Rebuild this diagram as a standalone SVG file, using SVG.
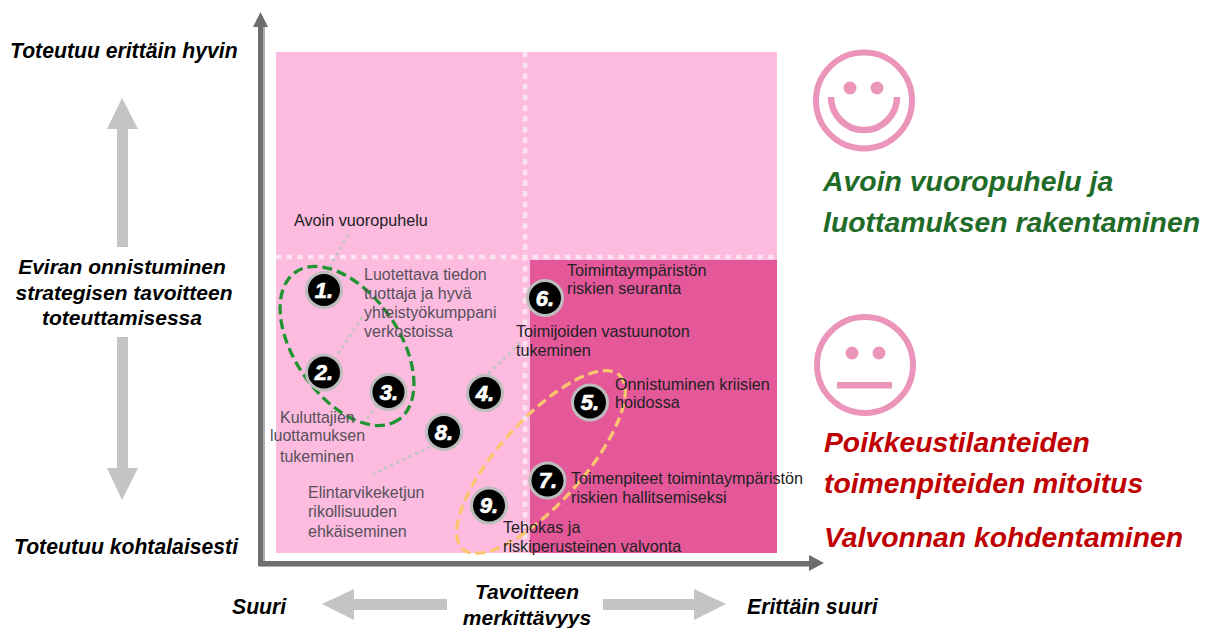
<svg xmlns="http://www.w3.org/2000/svg" width="1216" height="628" viewBox="0 0 1216 628">
<style>
text{font-family:"Liberation Sans",Arial,sans-serif}
.h{font-size:21.2px;font-weight:bold;font-style:italic;fill:#000}
.b{font-size:21px;font-weight:bold;font-style:italic;fill:#000;text-anchor:middle}
.g{font-size:28.4px;font-weight:bold;font-style:italic;fill:#1f6b27}
.r{font-size:28.3px;font-weight:bold;font-style:italic;fill:#c00000}
.d{font-size:16.2px;fill:#222}
.m{font-size:16px;fill:#57505a}
.n{font-size:22px;font-weight:bold;font-style:italic;fill:#fff;stroke:#fff;stroke-width:.7;text-anchor:middle}
.c{fill:#000;stroke:#bdbdbd;stroke-width:3}
.l{fill:none;stroke:#c4c4c4;stroke-width:3;stroke-dasharray:3 3.8}
.w{fill:none;stroke:#fde3f0;stroke-width:4.5;stroke-dasharray:5.5 5.2}
.f{fill:none;stroke:#ec95bb;stroke-width:6}
.p{fill:#ec95bb}
.a{fill:#c4c4c4}
</style>
<g id="quadrants">
<rect x="276" y="52" width="501" height="501" fill="#fdbcdf"/>
<rect x="530" y="260" width="247" height="293" fill="#e4589a"/>
<line class="w" x1="525" y1="52" x2="525" y2="553"/>
<line class="w" x1="276" y1="257" x2="777" y2="257"/>
</g>
<g id="axes">
<path d="M263 565V27M259 565H810" fill="none" stroke="#b0b0b0" stroke-width="4"/>
<path d="M260.500 563.500V26" fill="none" stroke="#6e6e6e" stroke-width="5"/>
<path d="M253 27L260.500 12L268 27Z" fill="#6e6e6e"/>
<path d="M258 563.500H810" fill="none" stroke="#6e6e6e" stroke-width="5"/>
<path d="M809 555L824 563L809 571Z" fill="#6e6e6e"/>
</g>
<g id="connectors">
<line class="l" x1="348" y1="235" x2="327" y2="272"/>
<line class="l" x1="362" y1="317" x2="337" y2="356"/>
<line class="l" x1="377" y1="405" x2="363" y2="423"/>
<line class="l" x1="520" y1="343" x2="487" y2="375"/>
<line class="l" x1="430" y1="447" x2="373" y2="474"/>
</g>
<g id="ellipses">
<ellipse cx="347" cy="346" rx="90" ry="52" transform="rotate(55 347 346)" fill="none" stroke="#1f9431" stroke-width="3.300" stroke-dasharray="10 5"/>
<ellipse cx="541" cy="462" rx="117" ry="42" transform="rotate(-48 541 462)" fill="none" stroke="#fbc56f" stroke-width="3.300" stroke-dasharray="10 5"/>
</g>
<g id="node-1"><circle class="c" cx="324" cy="290" r="17.500"/><text class="n" x="324" y="298">1.</text></g>
<g id="node-2"><circle class="c" cx="324" cy="372.500" r="17.500"/><text class="n" x="324" y="380">2.</text></g>
<g id="node-3"><circle class="c" cx="388.500" cy="392" r="17.500"/><text class="n" x="389" y="400">3.</text></g>
<g id="node-4"><circle class="c" cx="485" cy="393" r="17.500"/><text class="n" x="485" y="401">4.</text></g>
<g id="node-5"><circle class="c" cx="590" cy="402.500" r="17.500"/><text class="n" x="590" y="410">5.</text></g>
<g id="node-6"><circle class="c" cx="545" cy="298" r="17.500"/><text class="n" x="545" y="306">6.</text></g>
<g id="node-7"><circle class="c" cx="547.500" cy="480.500" r="17.500"/><text class="n" x="548" y="488">7.</text></g>
<g id="node-8"><circle class="c" cx="444" cy="432" r="17.500"/><text class="n" x="444" y="440">8.</text></g>
<g id="node-9"><circle class="c" cx="489" cy="505.500" r="17.500"/><text class="n" x="489" y="513">9.</text></g>
<g id="labels">
<text class="d" x="294" y="226">Avoin vuoropuhelu</text>
<text class="m" x="364" y="280">Luotettava tiedon</text>
<text class="m" x="364" y="299">tuottaja ja hyvä</text>
<text class="m" x="364" y="318">yhteistyökumppani</text>
<text class="m" x="364" y="337">verkostoissa</text>
<text class="m" x="280" y="423">Kuluttajien</text>
<text class="m" x="270" y="441">luottamuksen</text>
<text class="m" x="280" y="462">tukeminen</text>
<text class="m" x="308" y="498">Elintarvikeketjun</text>
<text class="m" x="308" y="517">rikollisuuden</text>
<text class="m" x="308" y="537">ehkäiseminen</text>
<text class="d" x="567" y="276">Toimintaympäristön</text>
<text class="d" x="567" y="294">riskien seuranta</text>
<text class="d" x="516" y="337">Toimijoiden vastuunoton</text>
<text class="d" x="516" y="356">tukeminen</text>
<text class="d" x="615" y="390">Onnistuminen kriisien</text>
<text class="d" x="615" y="408">hoidossa</text>
<text class="d" x="571" y="484">Toimenpiteet toimintaympäristön</text>
<text class="d" x="571" y="503">riskien hallitsemiseksi</text>
<text class="d" x="503" y="533">Tehokas ja</text>
<text class="d" x="503" y="552">riskiperusteinen valvonta</text>
</g>
<g id="y-axis-labels">
<text class="h" x="10" y="58">Toteutuu erittäin hyvin</text>
<text class="b" x="122" y="274">Eviran onnistuminen</text>
<text class="b" x="124" y="300">strategisen tavoitteen</text>
<text class="b" x="122" y="325">toteuttamisessa</text>
<text class="h" x="14" y="554">Toteutuu kohtalaisesti</text>
<path class="a" d="M107 129L122 98L138 129H128V247H117V129Z"/>
<path class="a" d="M117 337H128V468H138L122 500L107 468H117Z"/>
</g>
<g id="x-axis-labels">
<text class="h" x="232" y="614">Suuri</text>
<text class="b" x="527" y="599">Tavoitteen</text>
<text class="b" x="527" y="625">merkittävyys</text>
<text class="h" x="747" y="614">Erittäin suuri</text>
<path class="a" d="M322 604L354 589V599H447V610H354V620Z"/>
<path class="a" d="M603 599H694V589L726 604L694 620V610H603Z"/>
</g>
<g id="face-happy">
<circle class="f" cx="864" cy="100.500" r="48"/>
<circle class="p" cx="850" cy="88" r="6.500"/>
<circle class="p" cx="877" cy="88" r="6.500"/>
<path d="M831 97A33 33 0 0 0 897 97" fill="none" stroke="#ec95bb" stroke-width="6.500"/>
</g>
<g id="face-neutral">
<circle class="f" cx="865" cy="365" r="48"/>
<circle class="p" cx="852" cy="353" r="6.500"/>
<circle class="p" cx="879" cy="353" r="6.500"/>
<rect class="p" x="837" y="382" width="55" height="6.500"/>
</g>
<g id="outcomes">
<text class="g" x="823" y="191">Avoin vuoropuhelu ja</text>
<text class="g" x="823" y="232">luottamuksen rakentaminen</text>
<text class="r" x="824" y="452">Poikkeustilanteiden</text>
<text class="r" x="824" y="493">toimenpiteiden mitoitus</text>
<text class="r" x="824" y="547">Valvonnan kohdentaminen</text>
</g>
</svg>
